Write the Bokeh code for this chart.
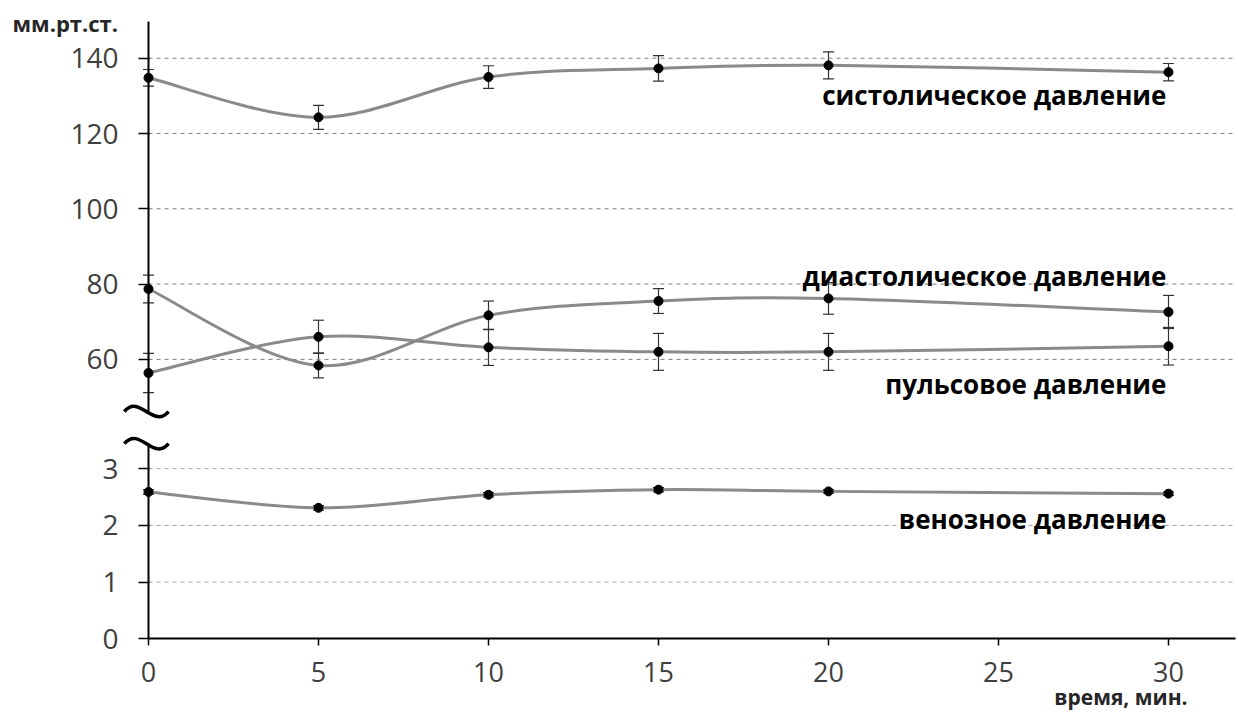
from bokeh.plotting import figure
from bokeh.models import (Range1d, FixedTicker, Label, Whisker, TeeHead,
                          ColumnDataSource, LinearAxis)
from bokeh.embed import file_html
from bokeh.resources import INLINE

# ---- data ----
times = [0, 5, 10, 15, 20, 30]
systolic = [134.8, 124.3, 135.0, 137.3, 138.1, 136.3]
systolic_err = [2.2, 3.2, 3.0, 3.4, 3.6, 2.3]
diastolic = [78.7, 58.4, 71.7, 75.5, 76.2, 72.6]
diastolic_err = [3.7, 3.3, 3.8, 3.3, 4.2, 4.4]
pulse = [56.4, 66.0, 63.2, 62.0, 62.0, 63.5]
pulse_err = [5.2, 4.4, 4.8, 4.9, 4.9, 5.0]
venous = [2.59, 2.31, 2.54, 2.63, 2.60, 2.56]
venous_err = [0.04, 0.04, 0.04, 0.04, 0.03, 0.03]

upper_ticks = [60, 80, 100, 120, 140]
lower_ticks = [0, 1, 2, 3]
x_ticks = [0, 5, 10, 15, 20, 25, 30]

upper_span = (46.16, 149.75)   # visible part of the upper scale
lower_span = (0, 3.44)         # visible part of the lower scale
x_span = (0, 31.97)

labels_upper = [("систолическое давление", 29.94, 130.2),
                ("диастолическое давление", 29.94, 82.2),
                ("пульсовое давление", 29.94, 53.4)]
label_venous = ("венозное давление", 29.94, 2.12)

FONT = "Open Sans"
LINE_COLOR = "#8a8a8a"
TICK_COLOR = "#404040"

W, H = 1236, 714
X_RANGE = (-4.353, 32.0)
LOWER_RANGE = (-1.335, 11.257)
UPPER_RANGE = (-34.32, 155.33)


def smooth_segments(xs, ys):
    """Catmull-Rom style bezier segments (like Excel smoothed lines)."""
    n = len(xs)
    seg = dict(x0=[], y0=[], x1=[], y1=[], cx0=[], cy0=[], cx1=[], cy1=[])
    for i in range(n - 1):
        xm, ym = (xs[i - 1], ys[i - 1]) if i > 0 else (xs[i], ys[i])
        xp, yp = (xs[i + 2], ys[i + 2]) if i + 2 < n else (xs[i + 1], ys[i + 1])
        seg["x0"].append(xs[i]); seg["y0"].append(ys[i])
        seg["x1"].append(xs[i + 1]); seg["y1"].append(ys[i + 1])
        seg["cx0"].append(xs[i] + (xs[i + 1] - xm) / 6)
        seg["cy0"].append(ys[i] + (ys[i + 1] - ym) / 6)
        seg["cx1"].append(xs[i + 1] - (xp - xs[i]) / 6)
        seg["cy1"].append(ys[i + 1] - (yp - ys[i]) / 6)
    return seg


p = figure(width=W, height=H, output_backend="svg", toolbar_location=None,
           x_range=Range1d(*X_RANGE), y_range=Range1d(*LOWER_RANGE),
           x_axis_location=None, y_axis_location=None, min_border=0)
p.extra_y_ranges = {"upper": Range1d(*UPPER_RANGE)}
p.outline_line_color = None
p.grid.visible = False
p.background_fill_color = "white"
p.border_fill_color = "white"


def make_yaxis(ticks, bounds, rng):
    ax = LinearAxis(fixed_location=0, bounds=bounds, ticker=FixedTicker(ticks=ticks))
    if rng:
        ax.y_range_name = rng
    ax.axis_line_width = 2
    ax.axis_line_color = "black"
    ax.major_tick_line_color = "black"
    ax.major_tick_line_width = 1.5
    ax.major_tick_out = 10
    ax.major_tick_in = 1
    ax.minor_tick_line_color = None
    ax.major_label_text_font = FONT
    ax.major_label_text_font_size = "28px"
    ax.major_label_text_color = TICK_COLOR
    ax.major_label_standoff = 20
    return ax


# grid lines (drawn from the tick lists, from the axis to the right end)
up_grid = [t for t in upper_ticks]
p.segment(x0=[x_span[0]] * len(up_grid), x1=[x_span[1]] * len(up_grid),
          y0=up_grid, y1=up_grid, y_range_name="upper",
          line_color="#7f7f7f", line_dash="4 4", line_width=1)
lo_grid = [t for t in lower_ticks if t > lower_span[0]]
p.segment(x0=[x_span[0]] * len(lo_grid), x1=[x_span[1]] * len(lo_grid),
          y0=lo_grid, y1=lo_grid,
          line_color="#a0a0a0", line_dash="4 4", line_width=1)

p.add_layout(make_yaxis(upper_ticks, upper_span, "upper"), "left")
p.add_layout(make_yaxis(lower_ticks, lower_span, None), "left")

xax = LinearAxis(fixed_location=0, bounds=x_span, ticker=FixedTicker(ticks=x_ticks))
xax.axis_line_width = 2
xax.axis_line_color = "black"
xax.major_tick_line_color = "black"
xax.major_tick_line_width = 1.5
xax.major_tick_out = 7
xax.major_tick_in = 0
xax.minor_tick_line_color = None
xax.major_label_text_font = FONT
xax.major_label_text_font_size = "27px"
xax.major_label_text_color = TICK_COLOR
xax.major_label_standoff = 16
p.add_layout(xax, "below")


def add_series(ys, errs, rng):
    kw = {"y_range_name": rng} if rng else {}
    seg = smooth_segments(times, ys)
    p.bezier(x0=seg["x0"], y0=seg["y0"], x1=seg["x1"], y1=seg["y1"],
             cx0=seg["cx0"], cy0=seg["cy0"], cx1=seg["cx1"], cy1=seg["cy1"],
             line_color=LINE_COLOR, line_width=3, **kw)
    src = ColumnDataSource(dict(x=times, y=ys,
                                lo=[y - e for y, e in zip(ys, errs)],
                                hi=[y + e for y, e in zip(ys, errs)]))
    w = Whisker(base="x", lower="lo", upper="hi", source=src,
                line_color="#333333", line_width=1.2,
                lower_head=TeeHead(size=11, line_color="#333333", line_width=1.2),
                upper_head=TeeHead(size=11, line_color="#333333", line_width=1.2), **kw)
    p.add_layout(w)
    p.scatter("x", "y", source=src, size=9, color="black", **kw)


add_series(systolic, systolic_err, "upper")
add_series(diastolic, diastolic_err, "upper")
add_series(pulse, pulse_err, "upper")
add_series(venous, venous_err, None)

for txt, lx, ly in labels_upper:
    p.add_layout(Label(x=lx, y=ly, text=txt, text_align="right", text_baseline="alphabetic",
                       text_font=FONT, text_font_style="bold", y_range_name="upper",
                       text_font_size="26px", text_color="black"))
txt, lx, ly = label_venous
p.add_layout(Label(x=lx, y=ly, text=txt, text_align="right", text_baseline="alphabetic",
                   text_font=FONT, text_font_style="bold",
                   text_font_size="26px", text_color="black"))

p.add_layout(Label(x=-4.0, y=149.4, text="мм.рт.ст.", text_align="left",
                   text_baseline="alphabetic", text_font=FONT, y_range_name="upper",
                   text_font_style="bold", text_font_size="22px", text_color="#262626"))
p.add_layout(Label(x=30.56, y=-1.03, text="время, мин.", text_align="right",
                   text_baseline="alphabetic", text_font=FONT,
                   text_font_style="bold", text_font_size="21px", text_color="#262626"))

# axis-break marks (tilde shapes) at the ends of the two axis segments
tx = -0.06
half_w = 0.65            # ~22 px in x units
p.bezier(x0=[tx - half_w], y0=[upper_span[0]], x1=[tx + half_w], y1=[upper_span[0]],
         cx0=[tx - 0.2], cy0=[upper_span[0] + 4.8], cx1=[tx + 0.2], cy1=[upper_span[0] - 4.8],
         y_range_name="upper", line_color="black", line_width=3.5)
p.bezier(x0=[tx - half_w], y0=[lower_span[1]], x1=[tx + half_w], y1=[lower_span[1]],
         cx0=[tx - 0.2], cy0=[lower_span[1] + 0.32], cx1=[tx + 0.2], cy1=[lower_span[1] - 0.32],
         line_color="black", line_width=3.5)

open("out.html", "w").write(file_html(p, INLINE))
